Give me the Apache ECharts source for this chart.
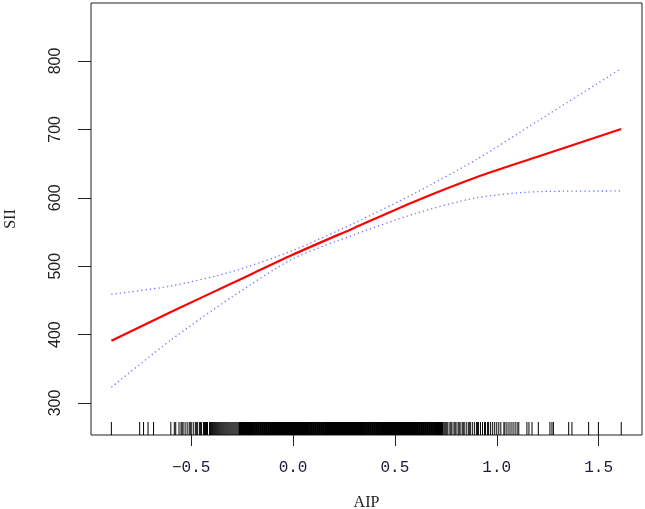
<!DOCTYPE html>
<html>
<head>
<meta charset="utf-8">
<script src="https://cdn.jsdelivr.net/npm/echarts@6/dist/echarts.min.js"></script>
<style>html,body{margin:0;padding:0;background:#fff}#c{width:645px;height:509px}</style>
</head>
<body>
<div id="c"></div>
<script>
// x positions of curve points (AIP)
const curveX = [-0.892, -0.6, -0.3, 0.0, 0.3, 0.6, 0.9, 1.2, 1.611];
// fitted SII
const fitY   = [391, 433, 475, 517, 556, 595, 630, 660, 700.6];
// upper 95% CI
const upperY = [459, 471, 492, 523, 563, 607, 656, 712, 789];
// lower 95% CI
const lowerY = [323, 392, 455, 511, 546, 577, 600, 609, 610];

// rug: observed AIP values (sparse / medium density)
const rugSparse = [-0.892,-0.753,-0.734,-0.712,-0.685,-0.600,-0.583,-0.576,
  -0.56,-0.55,-0.545,-0.54,-0.53,-0.52,-0.51,-0.505,-0.50,-0.49,-0.48,-0.475,-0.47,-0.46,-0.455,-0.45,
  -0.44,-0.435,-0.43,-0.425,-0.42,-0.41,-0.405,-0.40,-0.395,-0.39,-0.385,-0.38,-0.375,-0.37,-0.365,
  -0.36,-0.355,-0.35,-0.345,-0.34,-0.335,-0.33,-0.325,-0.32,-0.315,-0.31,-0.305,-0.30,-0.295,-0.29,
  -0.285,-0.28,-0.275,-0.27,-0.265,
  0.74,0.745,0.75,0.755,0.76,0.77,0.775,0.78,0.79,0.795,0.80,0.81,0.815,0.82,0.83,0.835,0.84,0.85,
  0.86,0.865,0.87,0.88,0.89,0.90,0.905,0.91,0.92,0.93,0.94,0.945,0.955,0.96,0.97,0.98,0.99,1.0,
  1.01,1.02,1.035,1.04,1.05,1.06,1.07,1.08,1.09,1.10,1.108,
  1.148,1.158,1.173,1.204,1.261,1.271,1.278,1.353,1.369,1.451,1.499,1.611];
// rug: dense core of observations
const rugDense = [-0.26,-0.25,-0.24,-0.23,-0.22,-0.21,-0.20,-0.19,-0.18,-0.17,-0.16,-0.15,-0.14,-0.13,
  -0.12,-0.11,-0.10,-0.09,-0.08,-0.07,-0.06,-0.05,-0.04,-0.03,-0.02,-0.01,0.00,0.01,0.02,0.03,0.04,
  0.05,0.06,0.07,0.08,0.09,0.10,0.11,0.12,0.13,0.14,0.15,0.16,0.17,0.18,0.19,0.20,0.21,0.22,0.23,
  0.24,0.25,0.26,0.27,0.28,0.29,0.30,0.31,0.32,0.33,0.34,0.35,0.36,0.37,0.38,0.39,0.40,0.41,0.42,
  0.43,0.44,0.45,0.46,0.47,0.48,0.49,0.50,0.51,0.52,0.53,0.54,0.55,0.56,0.57,0.58,0.59,0.60,0.61,
  0.62,0.63,0.64,0.65,0.66,0.67,0.68,0.69,0.70,0.71,0.72,0.73];

const xTicks = [-0.5, 0.0, 0.5, 1.0, 1.5];
const yTicks = [300, 400, 500, 600, 700, 800];

const X_MIN = -0.992, X_MAX = 1.713, Y_MIN = 253.2, Y_MAX = 884.8;

function zip(xs, ys){ return xs.map((x,i)=>[x, ys[i]]); }

function rugSeries(vals, w){
  return {
    type: 'custom',
    silent: true,
    data: vals.map(v => [v, Y_MIN]),
    encode: {x: 0, y: 1},
    renderItem: function(params, api){
      const p = api.coord([api.value(0), Y_MIN]);
      return {
        type: 'line',
        shape: {x1: p[0], y1: p[1], x2: p[0], y2: p[1] - 13},
        style: {stroke: '#000', lineWidth: w}
      };
    },
    z: 1
  };
}

const chart = echarts.init(document.getElementById('c'), null, {renderer: 'canvas'});
chart.setOption({
  animation: false,
  backgroundColor: '#fff',
  grid: {left: 91, right: 3, top: 3, bottom: 74, containLabel: false, outerBoundsMode: 'none',
         show: true, borderColor: '#222', borderWidth: 1, backgroundColor: 'transparent'},
  xAxis: {
    type: 'value', min: X_MIN, max: X_MAX,
    name: 'AIP', nameLocation: 'middle', nameGap: 60,
    nameTextStyle: {fontFamily: 'Liberation Serif', fontSize: 16, color: '#222'},
    axisLine: {show: false, onZero: false},
    splitLine: {show: false},
    axisTick: {show: true, length: 11, customValues: xTicks, lineStyle: {color: '#222', width: 1}},
    axisLabel: {
      customValues: xTicks, margin: 25, fontFamily: 'Liberation Mono', fontSize: 16, color: '#1c1c3a',
      formatter: v => (v < 0 ? '\u2212' : '') + Math.abs(v).toFixed(1)
    }
  },
  yAxis: {
    type: 'value', min: Y_MIN, max: Y_MAX,
    name: 'SII', nameLocation: 'middle', nameGap: 72, nameRotate: 90,
    nameTextStyle: {fontFamily: 'Liberation Serif', fontSize: 16, color: '#222'},
    axisLine: {show: false, onZero: false},
    splitLine: {show: false},
    axisTick: {show: true, length: 13, customValues: yTicks, lineStyle: {color: '#222', width: 1}},
    axisLabel: {
      customValues: yTicks, rotate: 90, margin: 27, fontFamily: 'Liberation Sans', fontSize: 16, color: '#222'
    }
  },
  series: [
    rugSeries(rugSparse, 1),
    rugSeries(rugDense, 2.6),
    {type: 'line', data: zip(curveX, upperY), smooth: 0.25, showSymbol: false, silent: true,
     lineStyle: {color: '#7474ff', width: 1.3, type: [1.3, 3]}},
    {type: 'line', data: zip(curveX, lowerY), smooth: 0.25, showSymbol: false, silent: true,
     lineStyle: {color: '#7474ff', width: 1.3, type: [1.3, 3]}},
    {type: 'line', data: zip(curveX, fitY), smooth: 0.25, showSymbol: false, silent: true,
     lineStyle: {color: '#ff0000', width: 2.2}}
  ]
});
</script>
</body>
</html>
